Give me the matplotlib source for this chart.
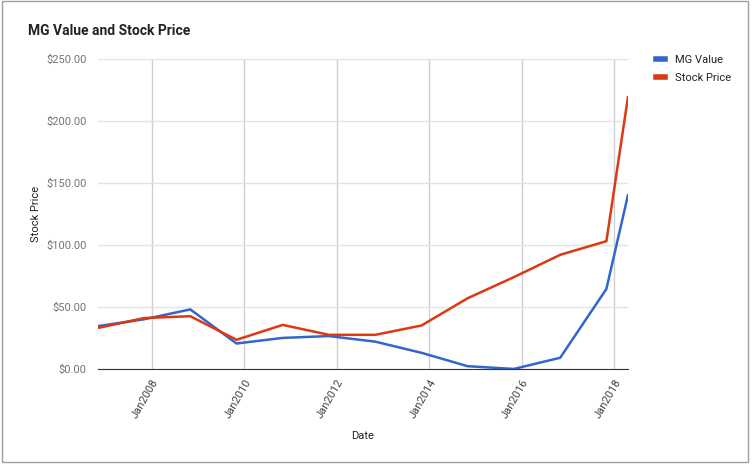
import datetime as dt
import matplotlib
matplotlib.use("Agg")
import matplotlib.pyplot as plt
import matplotlib.dates as mdates
from matplotlib.ticker import FuncFormatter

plt.rcParams['font.family'] = ['Roboto', 'DejaVu Sans']

# data
dates = [dt.date(y, 11, 1) for y in range(2006, 2018)] + [dt.date(2018, 4, 20)]
mg_value = [34.5, 40, 48, 20.5, 25, 26.5, 22, 13, 2.2, 0, 9, 64.5, 140]
stock_price = [33, 41, 42.5, 23.5, 35.5, 27.5, 27.5, 35, 57, 74, 92, 103, 219]
tick_dates = [dt.date(y, 1, 1) for y in range(2008, 2019, 2)]
y_ticks = [0, 50, 100, 150, 200, 250]

fig = plt.figure(figsize=(7.52, 4.67), dpi=100)
ax = fig.add_axes([0.130, 0.210, 0.705, 0.664])

ax.plot(dates, mg_value, color='#3366cc', lw=1.8, label='MG Value')
ax.plot(dates, stock_price, color='#dc3912', lw=1.8, label='Stock Price')

ax.set_xlim(dates[0], dates[-1])
ax.set_ylim(0, 250)
ax.set_yticks(y_ticks)
ax.yaxis.set_major_formatter(FuncFormatter(lambda v, p: '${:,.2f}'.format(v)))
ax.set_xticks(tick_dates)
ax.xaxis.set_major_formatter(mdates.DateFormatter('Jan%Y'))

ax.grid(axis='y', color='#e3e3e3', lw=1)
ax.grid(axis='x', color='#d0d0d0', lw=1)
ax.set_axisbelow(True)
for s in ['top', 'right', 'left']:
    ax.spines[s].set_visible(False)
ax.spines['bottom'].set_color('#333333')
ax.tick_params(axis='both', length=0, colors='#444444', labelsize=8)
ax.tick_params(axis='y', labelcolor='#757575', pad=8)
ax.tick_params(axis='x', pad=6)
for lbl in ax.get_xticklabels():
    lbl.set_rotation(60)
    lbl.set_ha('right')
    lbl.set_rotation_mode('anchor')

ax.set_ylabel('Stock Price', fontsize=8, color='#222222')
ax.yaxis.set_label_coords(-0.108, 0.5)
ax.set_xlabel('Date', fontsize=8, color='#222222')
ax.xaxis.set_label_coords(0.5, -0.2)

fig.text(0.037, 0.933, 'MG Value and Stock Price', fontsize=10, fontweight='bold',
         color='#222222', va='center')

leg = ax.legend(loc='upper left', bbox_to_anchor=(1.035, 1.045), frameon=False,
                fontsize=8, handlelength=0.8, handletextpad=0.9, labelspacing=0.75)
for t in leg.get_texts():
    t.set_color('#222222')
for h in leg.get_lines():
    h.set_linewidth(4)

# outer border like the spreadsheet chart frame
fig.patches.append(plt.Rectangle((0.002, 0.01), 0.993, 0.987, transform=fig.transFigure,
                                 fill=False, edgecolor='#9e9e9e', lw=1))

fig.savefig('out.png', dpi=100)
